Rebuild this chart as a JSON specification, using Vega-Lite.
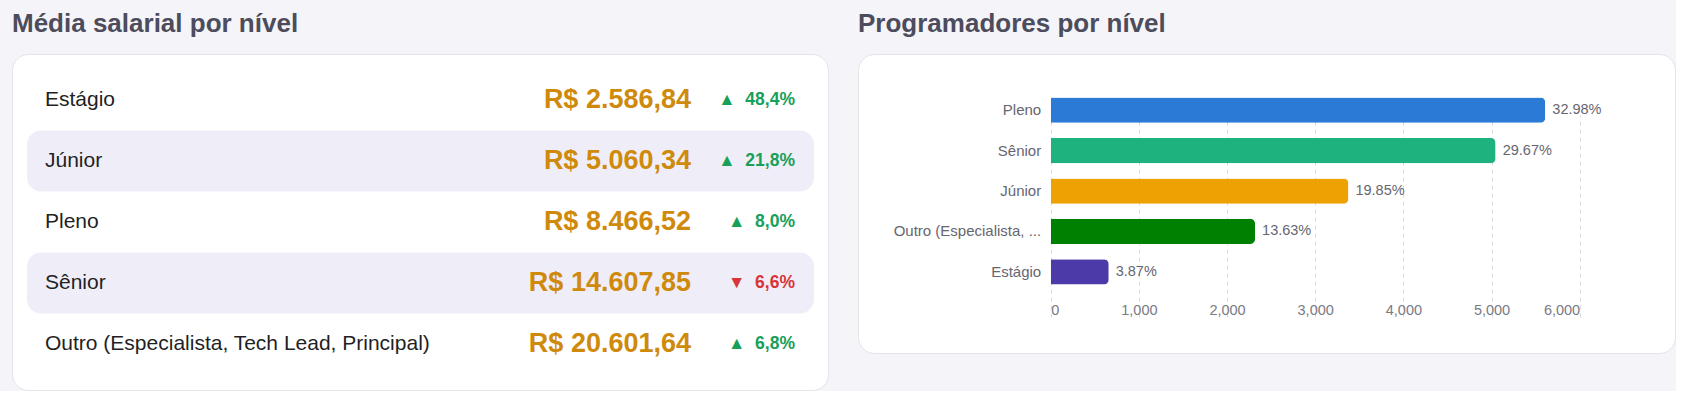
{
  "$schema": "https://vega.github.io/schema/vega-lite/v6.json",
  "background": "#f4f4f9",
  "padding": {"left": 11, "top": 10, "right": 0, "bottom": 0},
  "config": {
    "font": "Liberation Sans",
    "locale": {
      "number": {"decimal": ",", "thousands": ".", "grouping": [3], "currency": ["R$ ", ""]}
    },
    "title": {
      "anchor": "start",
      "frame": "group",
      "fontSize": 26,
      "fontWeight": "bold",
      "color": "#4d4c5c",
      "baseline": "alphabetic",
      "offset": 17
    }
  },
  "datasets": {
    "salarios": [
      {"nivel": "Estágio", "salario": 2586.84, "variacao": 0.484, "tendencia": "alta"},
      {"nivel": "Júnior", "salario": 5060.34, "variacao": 0.218, "tendencia": "alta"},
      {"nivel": "Pleno", "salario": 8466.52, "variacao": 0.080, "tendencia": "alta"},
      {"nivel": "Sênior", "salario": 14607.85, "variacao": 0.066, "tendencia": "queda"},
      {"nivel": "Outro (Especialista, Tech Lead, Principal)", "salario": 20601.64, "variacao": 0.068, "tendencia": "alta"}
    ],
    "programadores": [
      {"nivel": "Pleno", "total": 5610, "percentual": 0.3298},
      {"nivel": "Sênior", "total": 5047, "percentual": 0.2967},
      {"nivel": "Júnior", "total": 3377, "percentual": 0.1985},
      {"nivel": "Outro (Especialista, Tech Lead, Principal)", "total": 2318, "percentual": 0.1363},
      {"nivel": "Estágio", "total": 658, "percentual": 0.0387}
    ]
  },
  "spacing": 28,
  "hconcat": [
    {
      "title": "Média salarial por nível",
      "width": 816,
      "height": 336,
      "view": {"fill": "white", "stroke": "#e3e3ea", "cornerRadius": 16},
      "data": {"name": "salarios"},
      "encoding": {
        "y": {
          "field": "nivel",
          "type": "nominal",
          "sort": null,
          "scale": {
            "domain": ["Estágio", "Júnior", "Pleno", "Sênior", "Outro (Especialista, Tech Lead, Principal)"],
            "range": [15.5, 320.5],
            "paddingInner": 0,
            "paddingOuter": 0
          },
          "axis": null
        }
      },
      "layer": [
        {
          "transform": [
            {"window": [{"op": "row_number", "as": "ordem"}]},
            {"filter": "datum.ordem % 2 == 0"}
          ],
          "mark": {"type": "bar", "color": "#efeef8", "cornerRadius": 14},
          "encoding": {
            "x": {"value": 15},
            "x2": {"value": 802}
          }
        },
        {
          "mark": {"type": "text", "align": "left", "baseline": "middle", "fontSize": 21, "color": "#1f1f24"},
          "encoding": {
            "x": {"value": 33},
            "text": {"field": "nivel"}
          }
        },
        {
          "mark": {"type": "text", "align": "right", "baseline": "middle", "fontSize": 27, "fontWeight": "bold", "color": "#d08a0b"},
          "encoding": {
            "x": {"value": 679},
            "text": {"field": "salario", "type": "quantitative", "format": "$,.2f"}
          }
        },
        {
          "mark": {
            "type": "text",
            "align": "right",
            "baseline": "middle",
            "fontSize": 17.5,
            "fontWeight": "bold",
            "text": {"expr": "(datum.tendencia == 'queda' ? '▼\u00a0\u00a0' : '▲\u00a0\u00a0') + format(datum.variacao, '.1%')"}
          },
          "encoding": {
            "x": {"value": 783},
            "color": {
              "condition": {"test": "datum.tendencia == 'queda'", "value": "#d8353b"},
              "value": "#17a05a"
            }
          }
        }
      ]
    },
    {
      "title": "Programadores por nível",
      "width": 817,
      "height": 299,
      "view": {"fill": "white", "stroke": "#e3e3ea", "cornerRadius": 16},
      "data": {"name": "programadores"},
      "encoding": {
        "y": {
          "field": "nivel",
          "type": "nominal",
          "sort": null,
          "scale": {"range": [36, 238], "paddingInner": 0.375, "paddingOuter": 0.1875},
          "axis": {
            "title": null,
            "orient": "left",
            "offset": -192.7,
            "domain": false,
            "ticks": false,
            "grid": false,
            "labelPadding": 10,
            "labelFontSize": 15,
            "labelColor": "#666670",
            "labelLimit": 300,
            "labelExpr": "length(datum.label) > 20 ? substring(datum.label, 0, 20) + ' ...' : datum.label"
          }
        },
        "x": {
          "field": "total",
          "type": "quantitative",
          "scale": {"domain": [0, 6000], "range": [192.7, 721.7], "nice": false, "zero": true},
          "axis": {
            "title": null,
            "orient": "bottom",
            "offset": -61,
            "domain": false,
            "ticks": false,
            "values": [0, 1000, 2000, 3000, 4000, 5000, 6000],
            "format": ",d",
            "labelExpr": "replace(datum.label, '.', ',')",
            "labelPadding": 11,
            "labelFontSize": 14.5,
            "labelColor": "#7a7a84",
            "grid": true,
            "gridColor": "#d9d9e2",
            "gridDash": [4, 4]
          }
        }
      },
      "layer": [
        {
          "mark": {"type": "bar", "cornerRadiusEnd": 5},
          "encoding": {
            "color": {
              "field": "nivel",
              "type": "nominal",
              "legend": null,
              "scale": {
                "domain": ["Pleno", "Sênior", "Júnior", "Outro (Especialista, Tech Lead, Principal)", "Estágio"],
                "range": ["#2a7ad6", "#1eb27e", "#eda102", "#008000", "#4b3aa8"]
              }
            }
          }
        },
        {
          "mark": {
            "type": "text",
            "align": "left",
            "baseline": "middle",
            "dx": 7,
            "fontSize": 14.5,
            "color": "#666670",
            "text": {"expr": "replace(format(datum.percentual, '.2%'), ',', '.')"}
          }
        }
      ]
    }
  ]
}
